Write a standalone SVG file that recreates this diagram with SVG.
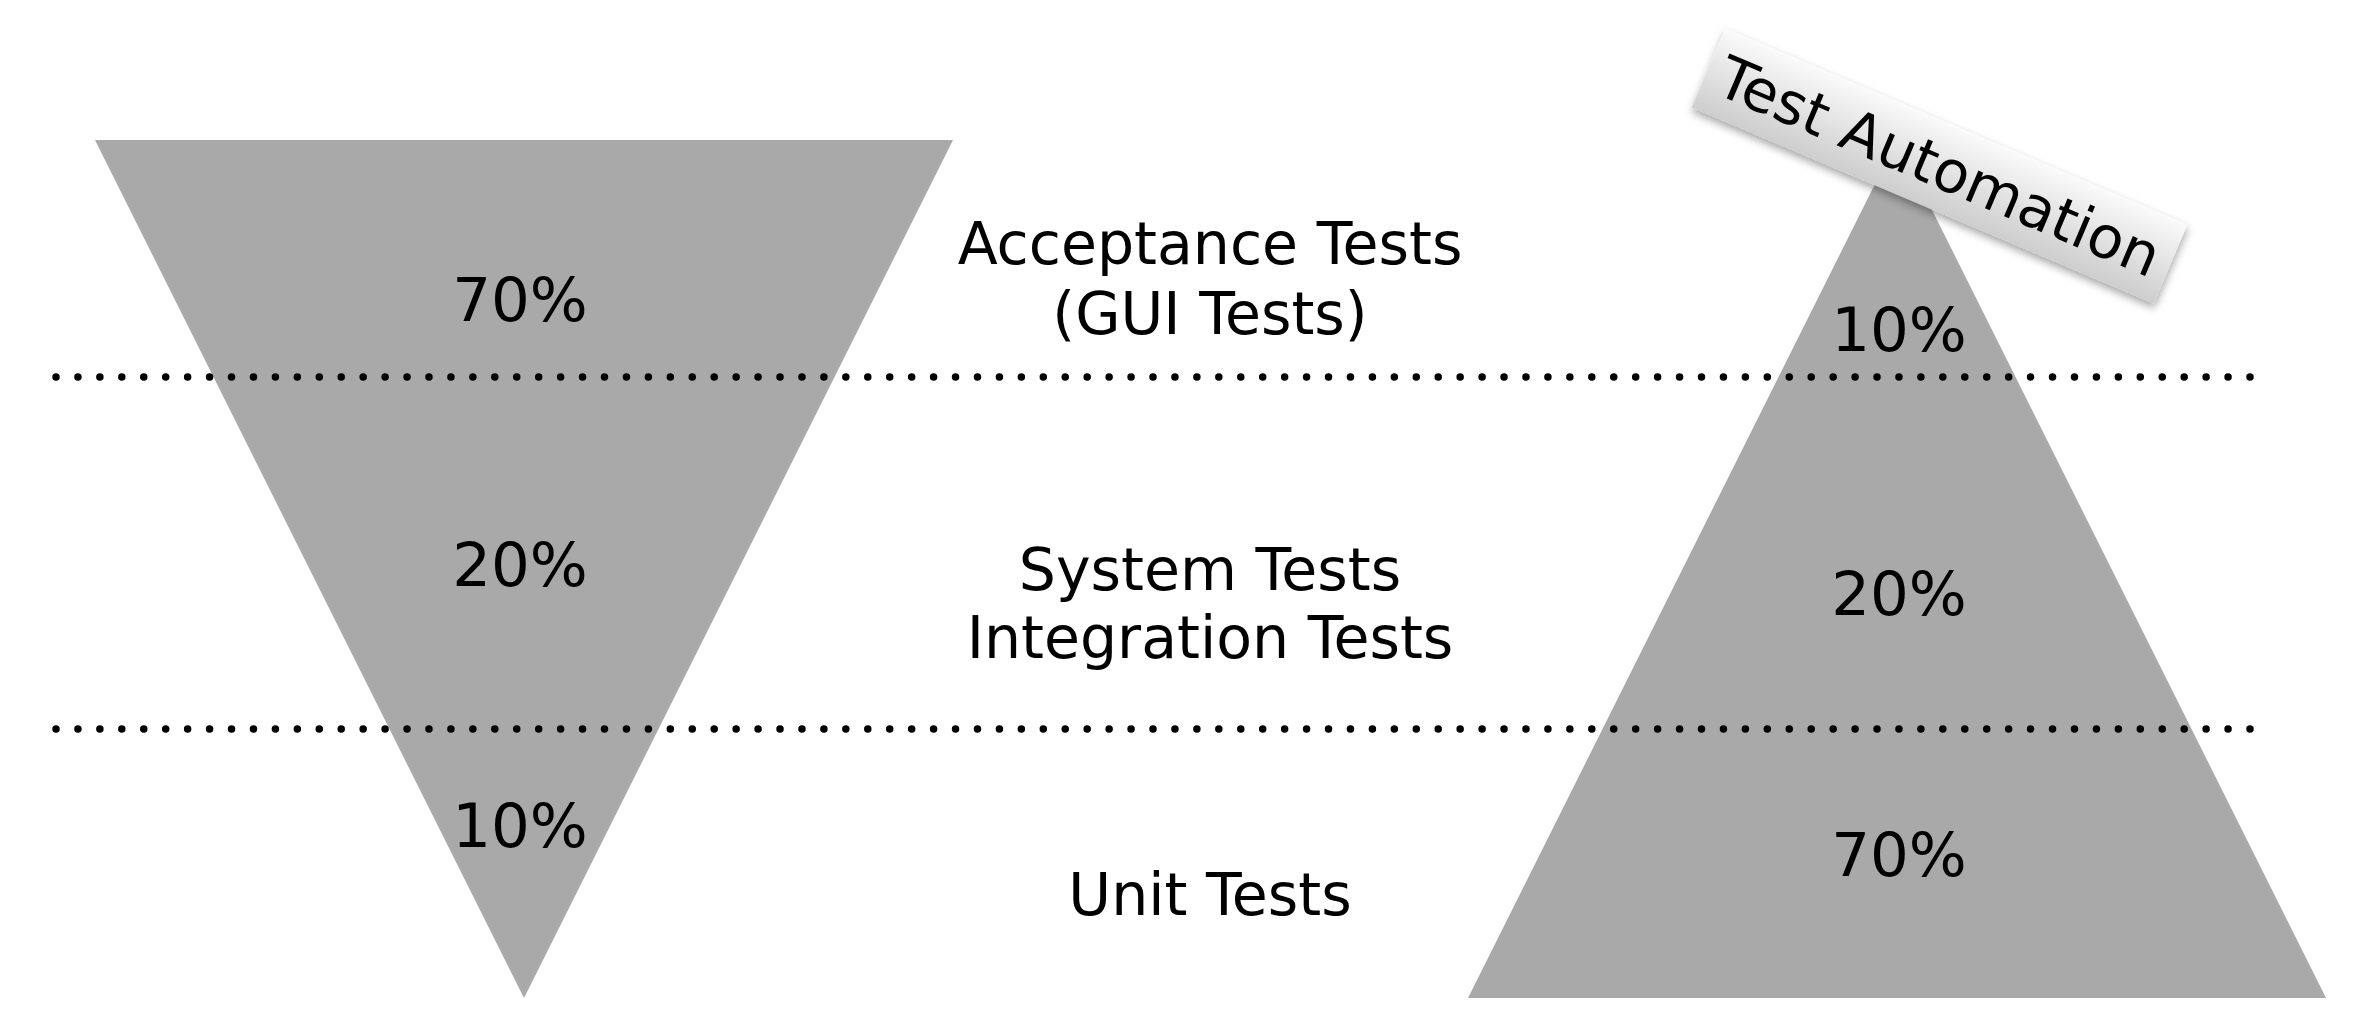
<svg xmlns="http://www.w3.org/2000/svg" width="2368" height="1026" viewBox="0 0 2368 1026">
  <style>
    .tri { fill: #a8a9a8; }
    .lbl { font-family: "DejaVu Sans", Verdana, sans-serif; font-size: 58.5px; fill: #000; text-anchor: middle; }
    .pct { font-family: "DejaVu Sans", Verdana, sans-serif; font-size: 61px; fill: #000; text-anchor: middle; }
    .dots { stroke: #000; stroke-width: 7.5; stroke-linecap: round; stroke-dasharray: 0 21.94; fill: none; }
  </style>
  <defs>
    <linearGradient id="boxGrad" x1="0" y1="0" x2="0" y2="1">
      <stop offset="0" stop-color="#fafafa"/>
      <stop offset="1" stop-color="#cdcdcd"/>
    </linearGradient>
    <filter id="shadow" x="-10%" y="-40%" width="120%" height="180%">
      <feDropShadow dx="2" dy="4" stdDeviation="4" flood-color="#000" flood-opacity="0.35"/>
    </filter>
  </defs>
  <rect width="2368" height="1026" fill="#fff"/>

  <g id="left-triangle">
    <polygon class="tri" points="95,140 953,140 524,998"/>
    <text class="pct" x="520" y="321">70%</text>
    <text class="pct" x="520" y="586">20%</text>
    <text class="pct" x="520" y="847">10%</text>
  </g>

  <g id="right-triangle">
    <polygon class="tri" points="1897,140 2326,998 1468,998"/>
    <text class="pct" x="1899" y="351">10%</text>
    <text class="pct" x="1899" y="615">20%</text>
    <text class="pct" x="1899" y="876">70%</text>
  </g>

  <g id="separators">
    <path class="dots" d="M56,377 H2251"/>
    <path class="dots" d="M56,729 H2251"/>
  </g>

  <g id="level-labels">
    <text class="lbl" x="1210" y="264">Acceptance Tests</text>
    <text class="lbl" x="1210" y="334">(GUI Tests)</text>
    <text class="lbl" x="1210" y="590">System Tests</text>
    <text class="lbl" x="1210" y="658">Integration Tests</text>
    <text class="lbl" x="1210" y="915">Unit Tests</text>
  </g>

  <g id="test-automation-label" transform="translate(1939.5,166) rotate(23)">
    <rect x="-251" y="-43" width="502" height="86" fill="url(#boxGrad)" filter="url(#shadow)"/>
    <text class="lbl" x="0" y="21">Test Automation</text>
  </g>
</svg>
